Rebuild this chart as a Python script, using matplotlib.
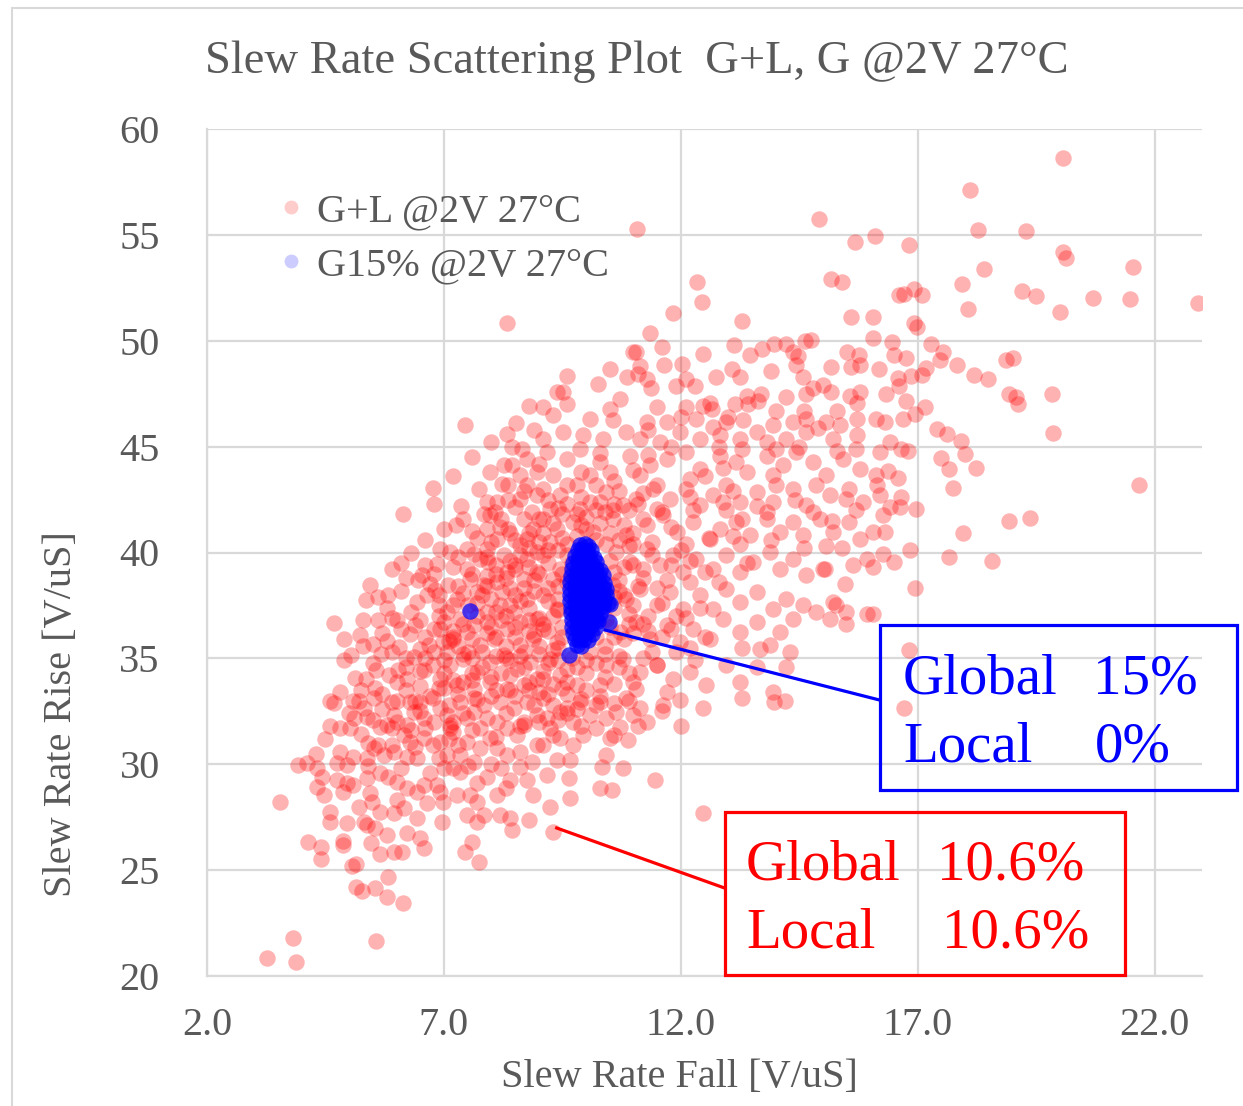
import matplotlib
matplotlib.use("Agg")
import matplotlib.pyplot as plt
from matplotlib.lines import Line2D
from matplotlib.patches import Rectangle

# ---- Monte Carlo samples, (slew rate fall, slew rate rise) in V/uS ----
# Global + local variation: low-rise tail
gl_low = [
    (3.27, 20.87), (3.87, 20.68), (3.81, 21.81), (5.57, 21.67), (6.14, 23.47), (5.80, 23.75),
    (5.54, 24.14), (5.14, 24.22), (5.27, 24.02), (5.83, 24.69), (5.07, 25.21), (5.15, 25.29),
    (4.41, 25.53), (5.66, 25.75), (5.94, 25.87), (6.11, 25.87), (7.44, 25.87), (7.75, 25.40),
    (7.60, 26.35), (4.41, 26.11), (4.14, 26.35), (4.86, 26.39), (4.88, 26.19), (5.47, 26.28),
    (6.57, 26.06), (6.50, 26.50), (5.80, 26.66), (6.22, 26.74), (5.55, 26.97), (9.31, 26.82),
    (12.46, 27.68), (3.55, 28.20),
    (4.67, 32.88), (5.09, 32.99), (5.52, 33.11), (5.90, 32.96), (4.59, 31.82), (4.81, 31.70),
    (5.02, 31.73), (5.25, 31.41), (5.38, 32.25), (5.66, 31.77), (5.80, 31.85), (5.90, 31.70),
    (6.22, 31.85), (6.36, 32.48), (6.50, 32.96), (6.78, 33.11), (6.92, 32.64), (7.13, 31.85),
    (7.20, 31.54), (7.34, 32.96), (7.63, 33.11), (7.84, 32.80), (8.19, 32.96), (8.47, 32.64),
    (8.75, 32.96), (8.96, 32.33), (6.15, 31.38), (6.29, 31.07), (6.57, 31.22), (6.78, 30.91),
    (5.52, 30.75), (5.73, 30.44), (5.94, 30.59), (6.22, 30.36), (6.43, 30.28), (3.93, 29.97),
    (4.11, 30.04), (4.32, 29.81), (4.43, 29.41), (4.74, 30.04), (4.95, 29.97), (5.09, 30.36),
    (5.38, 30.28), (4.74, 29.26), (4.95, 29.10), (5.09, 29.02), (5.38, 29.34), (5.66, 29.57),
    (5.83, 29.41), (6.01, 29.18), (6.22, 28.86), (6.43, 28.71), (6.57, 29.02), (4.32, 28.94),
    (4.46, 28.55), (4.88, 28.71), (5.45, 28.63), (5.48, 28.23), (5.66, 27.76), (5.94, 27.68),
    (6.15, 27.92), (6.43, 27.45), (6.64, 28.16), (4.59, 27.76), (4.60, 27.29), (4.95, 27.21),
    (5.31, 27.29), (5.38, 27.13), (6.85, 29.02), (6.92, 28.71), (6.99, 28.23), (6.96, 27.29),
    (7.20, 29.81), (7.34, 29.65), (7.27, 28.55), (7.56, 28.55), (7.70, 29.10), (7.70, 28.23),
    (7.49, 27.60), (7.70, 27.29), (7.84, 27.60), (8.12, 28.55), (8.19, 27.60), (8.40, 27.45),
    (8.43, 26.90), (8.79, 27.37), (8.89, 28.55), (8.75, 29.26), (8.40, 29.26), (8.61, 29.89),
    (8.86, 30.12), (7.06, 32.33), (7.13, 31.70), (7.20, 32.01), (7.49, 32.17), (7.63, 32.48),
    (7.77, 31.70), (7.98, 31.22), (8.12, 32.01), (8.33, 31.70), (8.54, 31.38), (8.68, 31.85),
    (8.96, 30.91), (8.12, 30.75), (8.33, 30.44), (7.77, 30.75), (7.49, 31.07), (7.34, 30.44),
    (7.63, 30.12), (7.06, 30.44), (6.92, 31.07), (5.94, 32.33), (6.29, 32.96), (6.57, 32.17),
    (5.31, 32.64),
    (9.24, 28.00), (9.67, 28.39), (10.29, 28.86), (10.54, 28.78), (11.45, 29.26), (12.47, 32.67),
    (13.30, 33.14), (13.97, 32.96), (9.64, 29.34), (10.33, 29.89), (10.77, 29.81), (10.89, 31.15),
    (10.43, 30.44), (9.38, 30.20), (9.17, 29.49), (9.66, 30.20), (9.10, 33.11), (9.31, 32.80),
    (9.45, 32.48), (9.17, 32.17), (9.59, 32.64), (9.73, 32.01), (9.87, 32.96), (10.08, 32.33),
    (10.29, 32.96), (10.43, 32.17), (10.64, 32.48), (10.85, 33.11), (10.99, 32.33), (11.14, 32.64),
    (11.28, 32.01), (9.94, 31.38), (9.73, 30.91), (9.45, 31.22), (9.24, 31.70), (9.10, 30.91),
    (10.22, 31.70), (10.50, 31.22), (10.71, 31.78), (11.63, 32.80), (11.98, 33.03),
    (10.2, 32.8), (9.6, 32.4), (8.7, 32.0), (8.1, 31.3), (7.6, 31.6), (7.1, 31.2), (6.6, 31.7),
    (6.0, 32.0), (5.5, 32.1), (5.0, 32.4), (6.9, 30.3), (7.5, 29.9), (8.0, 30.0), (8.6, 30.6),
    (9.3, 31.4), (9.9, 31.8), (10.6, 31.4), (11.1, 31.8), (11.6, 32.5), (12.0, 31.8),
    (5.1, 32.2), (5.6, 30.9), (6.1, 29.8), (6.7, 29.6), (6.4, 30.8), (7.0, 29.8), (7.3, 30.9),
    (7.9, 29.4), (8.3, 28.9), (8.2, 29.8), (6.0, 28.3), (5.2, 28.0), (4.8, 30.6), (4.6, 33.0),
    (5.4, 29.9), (5.9, 30.9), (6.3, 31.6), (6.0, 33.0), (6.4, 33.0), (5.7, 32.6), (6.8, 32.0),
    (6.5, 32.5), (5.4, 31.0),
]

# Global + local variation: left half of the main cloud
gl_left = [
    (7.44, 46.03), (8.53, 46.13), (8.33, 45.58), (8.43, 44.98), (8.65, 44.87), (8.26, 44.14),
    (8.43, 44.14), (8.60, 43.67), (6.76, 43.04), (6.13, 41.80), (7.75, 42.98), (7.37, 42.19),
    (7.26, 41.28), (7.41, 41.59), (8.22, 43.25), (8.36, 43.20), (8.12, 42.38), (8.36, 42.46),
    (8.50, 42.14), (7.84, 41.83), (7.98, 41.75), (8.08, 41.91), (8.68, 41.59), (8.86, 41.91),
    (7.91, 41.12), (8.19, 41.20), (8.36, 41.12), (6.10, 39.52), (6.92, 40.18), (6.85, 39.47),
    (7.13, 40.02), (7.49, 40.18), (7.63, 39.94), (7.91, 40.18), (7.94, 39.55), (8.26, 39.86),
    (8.50, 39.39), (8.75, 39.71), (5.45, 38.48), (5.83, 38.01), (5.36, 37.74), (6.45, 38.68),
    (6.54, 38.92), (6.43, 37.66), (6.64, 37.97), (6.82, 38.21), (7.08, 38.45), (7.27, 37.82),
    (7.49, 39.23), (7.56, 38.76), (7.70, 38.13), (7.84, 38.45), (8.12, 38.60), (8.22, 38.13),
    (4.67, 36.67), (5.23, 36.09), (5.60, 36.79), (5.90, 36.92), (5.69, 36.21), (6.06, 35.54),
    (6.29, 36.16), (6.40, 36.56), (5.04, 35.14), (5.67, 35.22), (5.13, 34.07), (5.36, 34.04),
    (5.57, 34.43), (5.25, 33.49), (5.55, 33.60), (5.85, 34.20), (6.04, 34.43), (6.22, 34.04),
    (6.36, 35.06), (6.50, 35.46), (6.68, 35.61), (6.57, 34.43), (6.78, 34.67), (6.92, 36.40),
    (6.99, 35.77), (7.06, 37.19), (7.34, 36.87), (7.63, 36.56), (7.91, 37.19), (8.19, 37.50),
    (8.47, 37.19), (8.75, 37.82), (8.96, 36.87), (7.20, 35.93), (7.49, 36.24), (7.77, 35.61),
    (8.05, 35.93), (8.33, 36.40), (8.61, 35.61), (8.89, 35.93), (7.13, 34.67), (7.41, 34.98),
    (7.70, 34.35), (7.98, 34.83), (8.26, 35.14), (8.54, 34.51), (8.82, 34.83), (8.96, 34.04),
    (7.27, 33.72), (7.63, 33.57), (7.98, 33.88), (8.33, 33.57), (8.68, 33.72), (6.92, 34.04),
    (7.06, 35.30), (8.75, 43.17), (8.96, 43.80), (8.61, 42.54), (8.89, 41.12), (8.75, 40.65),
    (8.96, 40.02), (8.61, 40.34), (8.12, 40.65), (7.77, 39.71), (8.33, 39.08), (8.68, 38.76),
    (8.96, 39.08), (7.98, 43.80), (8.96, 42.70), (8.75, 44.43),
    (7.2, 43.6), (7.6, 44.5), (8.0, 45.2), (8.9, 45.8), (9.3, 46.5), (9.6, 47.0), (8.8, 46.9),
    (9.0, 44.2), (9.6, 43.2), (9.9, 42.6), (10.2, 43.2), (10.7, 42.9), (11.2, 42.8), (9.5, 41.8),
    (10.0, 41.7), (10.4, 41.9), (10.8, 41.3), (9.8, 40.8), (9.4, 40.1), (8.8, 40.9), (8.5, 40.6),
    (8.2, 41.6), (7.6, 41.0), (7.0, 41.1), (6.6, 40.6), (6.3, 40.0), (6.8, 42.3), (7.9, 42.4),
    (8.7, 42.9), (9.2, 42.5), (7.2, 39.3), (6.6, 39.4), (6.2, 38.8), (5.9, 39.2), (7.9, 38.9),
    (8.4, 38.3), (8.9, 38.2), (9.6, 38.6), (9.7, 39.5), (9.2, 39.5), (8.6, 37.7), (8.0, 37.8),
    (7.5, 37.5), (6.9, 37.0), (6.3, 37.2), (5.8, 37.4), (5.3, 36.8), (9.0, 36.9), (9.5, 36.5),
    (9.7, 37.2), (8.8, 36.3), (8.3, 35.6), (7.9, 36.2), (7.3, 35.6), (6.6, 36.0), (6.1, 36.4),
    (5.5, 35.7), (4.9, 35.9), (9.3, 35.4), (9.7, 35.0), (10.4, 35.6), (10.8, 35.9), (10.9, 33.0),
    (10.6, 33.8), (10.0, 34.3), (9.6, 33.9), (9.0, 33.4), (8.5, 33.2), (8.2, 34.3), (7.6, 34.0),
    (7.0, 33.6), (6.5, 33.7), (6.0, 33.9), (5.5, 34.8), (6.2, 35.0), (6.8, 35.3), (7.5, 35.3),
    (8.1, 35.1), (8.7, 35.3), (9.2, 34.8), (4.8, 33.4), (4.5, 31.2), (4.3, 30.5),
    (6.7, 33.2), (7.0, 34.3), (7.4, 33.9), (7.8, 34.6), (8.1, 33.5), (8.4, 34.9), (8.8, 33.9),
    (6.6, 35.0), (7.1, 35.8), (7.6, 35.0), (8.0, 36.5), (8.5, 36.0), (8.8, 36.8), (6.8, 36.4),
    (7.2, 36.3), (7.7, 37.0), (8.3, 37.0), (8.7, 38.3), (6.9, 38.0), (7.3, 38.4), (7.8, 38.0),
    (8.3, 38.8), (8.8, 39.3), (6.8, 39.0), (7.3, 39.8), (7.7, 40.7), (8.1, 39.4), (8.6, 39.9),
    (9.0, 40.5), (9.3, 37.0), (9.5, 36.0), (9.2, 38.3), (9.0, 35.6), (9.6, 34.5), (9.3, 33.8),
    (5.2, 33.0), (5.7, 33.3), (6.2, 33.5), (6.5, 34.4), (5.9, 35.3), (5.3, 35.6), (6.0, 36.8),
    (5.6, 37.9), (6.1, 38.2), (6.7, 38.5), (4.9, 34.9),
    (6.9, 33.6), (6.2, 34.6), (5.8, 35.8), (6.5, 36.8), (6.9, 37.5),
]

# Global + local variation: densest part of the cloud
gl_dense = [
    (7.1, 32.8), (7.4, 32.4), (7.9, 32.2), (8.3, 32.4), (8.6, 31.8), (9.0, 32.0), (9.4, 32.1),
    (9.8, 32.6), (7.3, 33.3), (7.7, 33.1), (8.0, 33.2), (8.4, 33.5), (8.8, 33.5), (9.2, 33.3),
    (9.6, 33.3), (9.9, 33.1), (10.3, 33.2), (7.2, 34.0), (7.6, 34.3), (8.0, 34.1), (8.4, 34.2),
    (8.7, 34.6), (9.1, 34.4), (9.4, 34.9), (9.8, 34.6), (10.2, 34.8), (7.0, 34.9), (7.4, 35.2),
    (7.8, 35.3), (8.3, 35.0), (8.6, 35.1), (9.0, 35.2), (9.4, 35.5), (7.2, 36.0), (7.6, 35.9),
    (8.1, 36.0), (8.5, 36.5), (8.9, 36.1), (9.2, 36.3), (7.0, 36.7), (7.4, 36.6), (7.9, 36.7),
    (8.2, 36.8), (8.6, 36.7), (9.1, 36.6), (9.4, 37.3), (7.2, 37.5), (7.7, 37.6), (8.1, 37.2),
    (8.4, 37.5), (8.8, 37.4), (9.2, 37.7), (7.4, 38.1), (7.9, 38.4), (8.5, 38.0), (8.9, 38.7),
    (9.4, 38.4), (7.6, 39.0), (8.1, 39.0), (8.5, 39.2), (9.0, 39.0), (9.5, 39.0), (7.9, 39.8),
    (8.4, 39.6), (8.8, 40.2), (9.2, 40.1), (9.6, 39.9), (8.0, 40.5), (8.4, 40.9), (9.1, 40.9),
    (9.5, 40.7), (9.9, 41.3), (10.3, 41.4), (10.7, 40.6), (11.0, 40.9), (10.2, 40.6), (9.0, 41.6),
    (9.4, 42.1), (9.8, 41.8), (10.2, 42.0), (10.6, 42.3), (11.1, 42.3), (10.5, 39.6), (10.8, 39.3),
    (11.2, 39.2), (10.7, 38.2), (11.0, 37.5), (10.6, 37.9), (11.5, 38.3), (11.3, 36.3), (10.9, 36.6),
    (10.6, 36.0), (10.4, 35.2), (10.0, 34.9), (10.7, 34.6), (11.2, 35.0), (11.0, 33.9), (10.6, 32.9),
    (10.0, 33.5), (9.5, 33.6), (8.9, 32.8),
]

# Global + local variation: centre of the cloud around the G15% cluster
gl_centre = [
    (10.08, 46.32), (10.57, 46.24), (11.28, 46.16), (11.70, 46.16), (12.33, 46.32), (12.68, 45.92),
    (12.96, 46.16), (13.31, 46.24), (13.95, 46.00), (14.37, 46.16), (14.65, 46.32), (15.07, 46.16),
    (15.35, 46.00), (15.71, 46.32), (9.10, 45.37), (9.52, 45.69), (9.94, 45.53), (10.36, 45.37),
    (10.85, 45.69), (11.14, 45.37), (11.56, 45.21), (11.98, 45.69), (12.40, 45.37), (12.82, 45.53),
    (13.24, 45.37), (13.81, 45.21), (14.23, 45.37), (14.65, 45.69), (15.21, 45.37), (15.71, 45.53),
    (9.17, 44.74), (9.59, 44.43), (9.87, 44.90), (10.29, 44.27), (10.50, 43.80), (10.92, 44.58),
    (11.35, 44.11), (11.70, 44.43), (12.12, 44.74), (12.40, 43.95), (12.82, 44.58), (13.17, 44.27),
    (13.39, 43.80), (13.81, 44.58), (14.16, 44.11), (14.44, 44.74), (14.79, 44.27), (15.07, 43.64),
    (15.42, 44.43), (15.78, 43.95), (9.31, 43.64), (10.08, 43.64), (11.14, 43.64), (12.19, 43.48),
    (13.95, 43.64), (9.10, 43.01), (9.45, 42.70), (9.80, 43.17), (10.08, 42.38), (10.43, 42.85),
    (10.78, 42.22), (11.06, 42.54), (11.42, 43.01), (11.77, 42.54), (12.12, 43.01), (12.40, 42.22),
    (12.68, 42.70), (12.96, 43.17), (13.24, 42.38), (13.60, 42.85), (13.95, 42.38), (14.37, 43.01),
    (14.65, 42.22), (14.86, 43.17), (15.14, 42.70), (15.56, 43.01), (15.85, 42.38), (9.24, 42.07),
    (9.87, 42.07), (10.57, 41.99), (11.49, 42.07), (12.26, 41.99), (12.96, 41.99), (13.81, 41.91),
    (15.49, 42.54), (9.10, 41.59), (9.38, 41.12), (9.73, 41.44), (10.15, 40.96), (10.57, 41.59),
    (10.85, 40.81), (11.28, 41.28), (11.63, 41.75), (11.91, 40.96), (12.26, 41.44), (12.61, 40.65),
    (12.82, 41.12), (13.17, 41.44), (13.46, 40.81), (13.81, 41.59), (14.09, 40.96), (14.37, 41.44),
    (14.58, 40.81), (14.93, 41.59), (15.21, 40.96), (15.56, 41.44), (15.78, 40.65), (9.24, 40.49),
    (10.43, 40.41), (11.00, 40.41), (12.12, 40.41), (13.24, 40.41), (15.07, 40.33), (10.64, 40.02),
    (10.92, 39.55), (11.28, 40.18), (11.56, 39.39), (11.84, 39.86), (12.05, 39.08), (12.33, 39.71),
    (12.68, 39.23), (12.96, 39.86), (13.24, 39.08), (13.53, 39.55), (13.88, 40.02), (14.09, 39.23),
    (14.37, 39.71), (14.65, 38.92), (15.00, 39.23), (15.64, 39.39), (15.92, 39.71), (9.10, 39.86),
    (9.45, 39.23), (9.31, 38.76), (10.57, 38.45), (10.85, 37.82), (11.14, 38.29), (11.49, 37.50),
    (11.77, 38.13), (12.05, 37.34), (12.40, 37.97), (12.68, 37.34), (12.96, 38.29), (13.24, 37.66),
    (13.60, 38.13), (13.95, 37.34), (14.23, 37.82), (14.58, 37.50), (14.86, 37.19), (15.21, 37.66),
    (15.49, 37.19), (9.10, 37.97), (9.38, 37.34), (10.43, 36.87), (10.71, 36.24), (11.06, 36.71),
    (11.35, 35.93), (11.70, 36.56), (11.98, 35.77), (12.26, 36.40), (12.61, 35.93), (12.89, 36.87),
    (13.24, 36.24), (13.60, 36.71), (13.88, 35.61), (14.09, 36.24), (14.37, 36.87), (9.10, 36.40),
    (9.38, 35.77), (10.08, 35.30), (10.43, 34.67), (10.78, 34.98), (11.14, 34.35), (11.49, 34.67),
    (11.84, 34.04), (12.19, 34.35), (12.54, 33.72), (12.96, 34.67), (13.24, 33.88), (13.95, 33.41),
    (14.23, 34.59), (13.67, 35.46), (9.24, 34.98), (9.45, 34.20), (9.80, 33.72), (9.10, 34.04),
    (10.29, 33.72), (11.06, 33.57), (11.70, 33.41), (15.04, 39.23), (15.46, 38.52), (15.28, 37.50),
    (15.14, 36.87), (15.49, 36.64), (15.92, 37.11), (13.6, 34.6), (13.3, 35.5), (14.2, 33.0),
    (14.3, 35.3),
    (9.4, 37.8), (9.8, 38.2), (10.8, 38.0), (11.2, 38.8), (11.0, 39.4), (10.6, 39.1), (10.9, 40.3),
    (11.4, 40.5), (11.8, 39.4), (11.3, 37.0), (11.0, 36.2), (10.6, 37.4), (11.6, 36.0), (11.9, 37.0),
    (12.2, 38.6), (12.5, 39.1), (12.0, 40.1), (12.6, 40.7), (11.6, 41.9), (12.2, 42.6), (12.9, 42.4),
    (13.1, 40.8), (13.4, 39.5), (12.8, 38.6), (12.4, 37.4), (11.9, 35.3), (12.3, 34.9), (11.4, 35.3),
    (10.7, 35.1), (10.2, 36.0), (10.5, 36.5),
    (9.3, 41.4), (9.6, 42.3), (9.9, 43.8), (10.3, 44.7), (10.6, 43.4), (11.0, 43.9), (11.3, 44.6),
    (11.5, 43.2), (10.9, 42.0), (10.3, 42.4), (10.0, 41.1), (9.6, 40.4), (10.5, 40.9), (11.2, 41.6),
    (11.8, 41.2), (11.4, 39.9), (11.1, 38.4), (10.7, 38.7), (12.2, 39.6), (11.7, 38.7), (11.6, 37.6),
    (10.9, 37.1), (11.2, 36.6), (11.8, 36.4), (12.1, 36.9), (12.5, 36.0), (12.2, 35.5), (11.5, 34.7),
    (10.9, 34.3), (10.4, 34.1),
    (12.5, 43.6), (12.9, 44.0), (13.3, 44.9), (13.6, 45.7), (14.0, 44.9), (14.5, 45.0), (14.9, 45.9),
    (15.3, 44.8), (15.7, 44.9), (13.1, 42.9), (13.6, 42.2), (14.0, 43.2), (14.4, 42.5), (14.8, 41.9),
    (15.2, 41.5), (15.7, 42.0), (13.3, 41.6), (13.9, 40.6), (14.6, 40.2), (15.4, 40.2), (12.8, 45.0),
    (13.0, 46.4), (13.7, 47.5), (14.0, 46.7), (14.6, 46.7), (15.3, 46.7), (12.0, 46.4), (11.8, 45.0),
    (11.3, 45.8), (10.5, 46.8),
]

# Global + local variation: upper band (rise above ~46.5 V/uS)
gl_upper = [
    (14.92, 55.77), (11.07, 55.27), (15.68, 54.64), (15.16, 52.91), (15.41, 52.78), (12.35, 52.78),
    (12.44, 51.85), (11.84, 51.32), (13.30, 50.91), (15.59, 51.13), (11.35, 50.36), (11.06, 49.48),
    (10.99, 49.45), (11.61, 49.71), (11.14, 48.82), (11.10, 48.45), (11.64, 48.85), (12.03, 48.89),
    (12.47, 49.37), (13.12, 49.79), (13.47, 49.34), (13.72, 49.63), (13.97, 49.84), (14.22, 49.84),
    (14.62, 49.99), (14.74, 50.04), (14.37, 49.48), (14.48, 49.29), (14.44, 48.85), (14.58, 48.31),
    (15.18, 48.74), (15.51, 49.45), (15.76, 49.32), (15.60, 48.78), (15.78, 48.86), (9.59, 48.34),
    (9.38, 47.59), (9.52, 47.59), (10.26, 47.98), (10.50, 48.66), (10.87, 48.31), (10.71, 47.27),
    (11.28, 48.19), (11.37, 47.75), (11.49, 46.85), (11.89, 47.87), (12.10, 48.19), (12.30, 47.84),
    (12.74, 48.31), (13.07, 48.66), (13.24, 48.31), (13.90, 48.55), (13.39, 47.40), (13.63, 47.16),
    (13.42, 47.01), (14.23, 47.32), (14.65, 47.48), (14.79, 47.75), (15.00, 47.90), (15.18, 47.56),
    (15.57, 47.40), (15.78, 47.56), (15.71, 47.08), (12.47, 46.93), (12.61, 47.05), (13.14, 47.01),
    (12.12, 46.85), (12.65, 46.77), (9.10, 46.85), (8.33, 50.86),
]

# Global + local variation: high-fall side
gl_right = [
    (20.06, 58.65), (18.10, 57.11), (18.27, 55.25), (19.28, 55.19), (16.82, 54.51), (20.06, 54.20),
    (20.14, 53.93), (21.55, 53.46), (18.39, 53.38), (17.93, 52.67), (19.20, 52.33), (19.50, 52.12),
    (20.71, 52.04), (21.49, 51.98), (22.91, 51.77), (20.01, 51.38), (18.07, 51.49), (16.60, 52.17),
    (16.70, 52.23), (16.93, 52.44), (17.09, 52.17), (16.92, 50.86), (16.99, 50.67), (16.09, 54.95),
    (16.05, 51.10), (16.05, 50.15), (16.46, 49.92), (17.29, 49.87), (17.53, 49.48), (17.46, 49.08),
    (16.49, 49.32), (16.75, 49.18), (17.82, 48.86), (18.18, 48.38), (18.48, 48.19), (18.86, 49.10),
    (19.02, 49.18), (19.83, 47.48), (18.92, 47.48), (19.07, 47.32), (19.11, 47.01), (16.19, 48.66),
    (16.58, 48.22), (16.61, 47.84), (16.86, 48.34), (17.10, 48.38), (17.18, 48.69), (16.33, 47.48),
    (16.75, 47.16), (17.16, 46.88),
    (19.85, 45.65), (21.66, 43.20), (17.41, 45.81), (17.62, 45.61), (17.91, 45.26), (18.00, 44.66),
    (17.49, 44.46), (18.22, 43.99), (17.65, 43.92), (17.74, 43.04), (16.96, 42.07), (18.92, 41.47),
    (19.38, 41.64), (17.95, 40.93), (17.65, 39.78), (18.57, 39.58), (16.84, 40.10), (16.51, 39.55),
    (16.26, 39.94), (16.95, 38.32), (16.05, 39.31), (16.05, 37.11), (16.82, 35.38), (16.72, 32.64),
    (16.11, 46.30), (16.32, 46.16), (16.68, 46.30), (16.94, 46.53), (16.20, 44.74), (16.41, 45.21),
    (16.64, 44.88), (16.79, 44.79), (16.11, 43.65), (16.37, 43.84), (16.58, 43.51), (16.15, 43.18),
    (16.20, 42.71), (16.41, 42.14), (16.62, 42.14), (16.64, 42.62), (16.26, 41.77), (16.32, 40.96),
    (16.05, 40.96),
]

# Global-only (15%) variation
g15 = [
    (9.88, 40.35), (9.98, 40.40), (10.05, 40.30),
    (9.82, 40.10), (9.92, 40.15), (10.02, 40.08), (10.10, 40.12),
    (9.76, 39.82), (9.86, 39.78), (9.96, 39.85), (10.06, 39.80), (10.16, 39.76),
    (9.72, 39.50), (9.82, 39.55), (9.92, 39.48), (10.02, 39.52), (10.12, 39.47), (10.22, 39.53),
    (9.70, 39.22), (9.80, 39.18), (9.90, 39.24), (10.00, 39.20), (10.10, 39.16), (10.20, 39.23),
    (10.29, 39.18),
    (9.68, 38.90), (9.78, 38.94), (9.88, 38.88), (9.98, 38.92), (10.08, 38.87), (10.18, 38.93),
    (10.28, 38.89), (10.35, 38.95),
    (9.67, 38.62), (9.77, 38.58), (9.87, 38.63), (9.97, 38.57), (10.07, 38.61), (10.17, 38.56),
    (10.27, 38.62), (10.37, 38.58),
    (9.66, 38.28), (9.76, 38.33), (9.86, 38.27), (9.96, 38.32), (10.06, 38.26), (10.16, 38.31),
    (10.26, 38.27), (10.36, 38.33), (10.42, 38.28),
    (9.66, 38.00), (9.76, 37.96), (9.86, 38.02), (9.96, 37.97), (10.06, 38.03), (10.16, 37.98),
    (10.26, 38.02), (10.36, 37.96), (10.43, 38.01),
    (9.67, 37.72), (9.77, 37.67), (9.87, 37.73), (9.97, 37.68), (10.07, 37.72), (10.17, 37.66),
    (10.27, 37.71), (10.37, 37.68), (10.46, 37.60),
    (9.68, 37.40), (9.78, 37.44), (9.88, 37.38), (9.98, 37.43), (10.08, 37.37), (10.18, 37.42),
    (10.28, 37.38), (10.36, 37.43),
    (9.69, 37.12), (9.79, 37.08), (9.89, 37.13), (9.99, 37.07), (10.09, 37.12), (10.19, 37.06),
    (10.29, 37.11),
    (9.70, 36.80), (9.80, 36.84), (9.90, 36.78), (10.00, 36.83), (10.10, 36.77), (10.20, 36.82),
    (10.26, 36.76),
    (9.71, 36.50), (9.81, 36.46), (9.91, 36.52), (10.01, 36.47), (10.11, 36.51), (10.19, 36.45),
    (9.73, 36.20), (9.83, 36.24), (9.93, 36.18), (10.03, 36.23), (10.12, 36.17),
    (9.76, 35.92), (9.86, 35.87), (9.96, 35.93), (10.04, 35.88),
    (9.80, 35.65), (9.90, 35.60),
    (9.64, 35.14), (7.55, 37.23), (10.50, 37.58), (10.48, 36.70),
]

gl_points = gl_low + gl_left + gl_dense + gl_centre + gl_upper + gl_right
fall_gl = [p[0] for p in gl_points]
rise_gl = [p[1] for p in gl_points]
fall_g15 = [p[0] for p in g15]
rise_g15 = [p[1] for p in g15]

x_ticks = [2.0, 7.0, 12.0, 17.0, 22.0]
y_ticks = [20, 25, 30, 35, 40, 45, 50, 55, 60]
series_labels = ["G+L @2V 27\u00b0C", "G15% @2V 27\u00b0C"]
title_text = "Slew Rate Scattering Plot  G+L, G @2V 27\u00b0C"

FONT = ["Liberation Serif", "DejaVu Serif"]
GRAY = "#595959"
GRID = "#d9d9d9"
W, H = 1243, 1106

plt.rcParams["font.family"] = FONT

fig = plt.figure(figsize=(W / 100, H / 100), dpi=100)
ax = fig.add_axes([207 / W, 1 - 976 / H, (1202 - 207) / W, (976 - 129) / H])


def fxy(px, py):
    return px / W, 1 - py / H


ax.scatter(fall_gl, rise_gl, s=140, color="#ff0000", alpha=0.3, linewidths=0, zorder=3)
ax.scatter(fall_g15, rise_g15, s=140, color="#0000ff", alpha=0.72, linewidths=0, zorder=4)

ax.set_xlim(2.0, 23.0)
ax.set_ylim(20, 60)
ax.set_xticks(x_ticks)
ax.set_xticklabels([f"{v:.1f}" for v in x_ticks])
ax.set_yticks(y_ticks)
ax.grid(True, color=GRID, linewidth=1.6, zorder=0)
ax.set_axisbelow(True)
for side in ["top", "right"]:
    ax.spines[side].set_visible(False)
for side in ["left", "bottom"]:
    ax.spines[side].set_color(GRID)
    ax.spines[side].set_linewidth(1.6)
ax.tick_params(axis="both", length=0, labelsize=29, labelcolor=GRAY)
ax.tick_params(axis="y", pad=34)
ax.tick_params(axis="x", pad=22)

ax.set_xlabel("Slew Rate Fall [V/uS]", fontsize=29, color=GRAY)
ax.set_ylabel("Slew Rate Rise [V/uS]", fontsize=29, color=GRAY)
ax.xaxis.set_label_coords((679 - 207) / 995, (976 - 1078) / 847)
ax.xaxis.label.set_va("center")
ax.yaxis.set_label_coords((62 - 207) / 995, (976 - 714) / 847)
ax.yaxis.label.set_va("center")

fig.text(*fxy(637, 62), title_text, fontsize=33.5, color=GRAY, ha="center", va="center")

handles = [
    Line2D([], [], linestyle="none", marker="o", markersize=10,
           markerfacecolor=(1, 0, 0, 0.2), markeredgewidth=0),
    Line2D([], [], linestyle="none", marker="o", markersize=10,
           markerfacecolor=(0, 0, 1, 0.2), markeredgewidth=0),
]
leg = ax.legend(handles, series_labels, loc="upper left",
                bbox_to_anchor=((279 - 207) / 995, (976 - 193) / 847),
                frameon=False, fontsize=29, handlelength=0.6, handletextpad=0.35,
                labelspacing=0.42, borderpad=0, borderaxespad=0)
for t in leg.get_texts():
    t.set_color(GRAY)

# Annotation leaders and boxes
ax.plot([10.40, 16.2], [36.34, 33.03], color="#0000ff", linewidth=2.3, zorder=5, clip_on=False)
ax.plot([9.38, 12.93], [26.99, 24.15], color="#ff0000", linewidth=2.3, zorder=5, clip_on=False)

for (x0, y0, x1, y1), col in [((880, 625, 1237, 790), "#0000ff"),
                              ((725, 812, 1125, 975), "#ff0000")]:
    fig.patches.append(Rectangle(fxy(x0, y1), (x1 - x0) / W, (y1 - y0) / H,
                                 transform=fig.transFigure, fill=False,
                                 edgecolor=col, linewidth=2.3, zorder=6))

box_text = [
    (903, 693, "Global", "#0000ff"), (1093, 693, "15%", "#0000ff"),
    (903, 762, "Local", "#0000ff"), (1095, 762, "0%", "#0000ff"),
    (746, 880, "Global", "#ff0000"), (937, 880, "10.6%", "#ff0000"),
    (746, 947, "Local", "#ff0000"), (942, 947, "10.6%", "#ff0000"),
]
for px, py, s, col in box_text:
    fig.text(*fxy(px, py), s, fontsize=41, color=col, ha="left", va="baseline", zorder=7)

# Chart-area border
fig.patches.append(Rectangle(fxy(12, 1200), 2.0, (1200 - 8) / H, transform=fig.transFigure,
                             fill=False, edgecolor=GRID, linewidth=1.5))

fig.savefig("out.png", dpi=100)
